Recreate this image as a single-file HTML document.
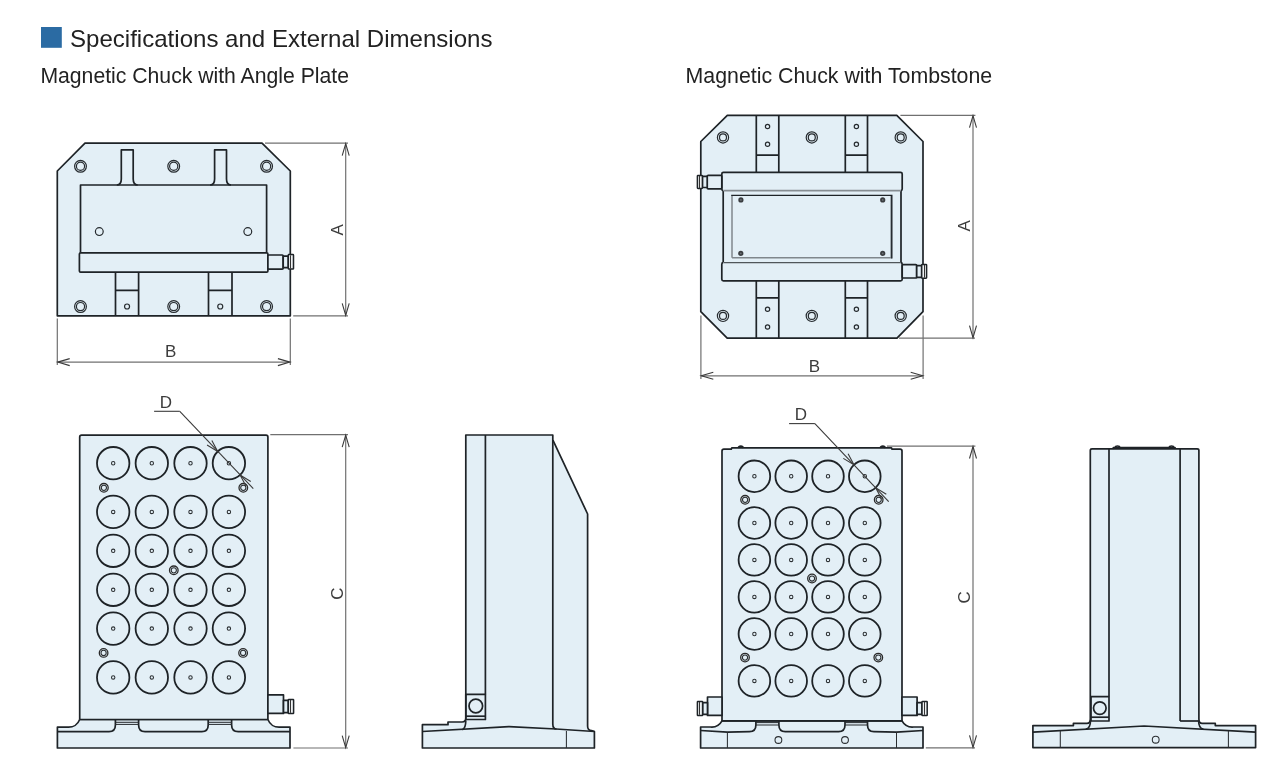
<!DOCTYPE html>
<html><head><meta charset="utf-8"><style>
html,body{margin:0;padding:0;background:#fff;}
body{width:1280px;height:775px;overflow:hidden;position:relative;}
svg{position:absolute;left:0;top:0;will-change:transform;}
.o{fill:none;stroke:#1e2327;stroke-width:1.7;stroke-linejoin:round;}
.of{fill:#e3eff6;stroke:#1e2327;stroke-width:1.7;stroke-linejoin:round;}
.o2{fill:none;stroke:#1e2327;stroke-width:1.4;}
.tg{fill:none;stroke:#777;stroke-width:1;}
.t{fill:none;stroke:#2a2e31;stroke-width:1.05;}
.tr{fill:none;stroke:#262b2f;stroke-width:1.2;}
.tt{fill:none;stroke:#2a2a2a;stroke-width:1.3;}
.big{fill:none;stroke:#1e2327;stroke-width:1.8;}
.dot{fill:#3a3d40;stroke:none;}
.dotc{fill:#6b7075;stroke:none;}
.nut{fill:#eef1f3;stroke:#1e2327;stroke-width:1.5;}
.tn{fill:none;stroke:#333;stroke-width:1;}
.fillonly{fill:#e3eff6;stroke:none;}
.gb{fill:none;stroke:#878d92;stroke-width:1.6;}
.gb2{fill:none;stroke:#50565a;stroke-width:1.3;}
.gp{fill:none;stroke:#80878c;stroke-width:1.5;}
.d{fill:none;stroke:#707070;stroke-width:1.2;}
.d2{fill:none;stroke:#858585;stroke-width:1.4;}
.da{fill:none;stroke:#3a3a3a;stroke-width:1.1;stroke-linejoin:miter;}
.dl{fill:none;stroke:#3a3a3a;stroke-width:1.1;}
text{font-family:"Liberation Sans",sans-serif;fill:#222;}
.lbl{font-size:17px;fill:#3c3c3c;}
</style></head><body>
<svg width="1280" height="775" viewBox="0 0 1280 775">
<rect x="41" y="27" width="20.8" height="20.8" fill="#2b6ba3"/>
<text x="70" y="46.5" font-size="24" textLength="422.5" lengthAdjust="spacingAndGlyphs">Specifications and External Dimensions</text>
<text x="40.4" y="82.8" font-size="21.6" textLength="308.6" lengthAdjust="spacingAndGlyphs">Magnetic Chuck with Angle Plate</text>
<text x="685.6" y="82.8" font-size="21.6" textLength="306.6" lengthAdjust="spacingAndGlyphs">Magnetic Chuck with Tombstone</text>
<text class="lbl" x="170.6" y="357" text-anchor="middle">B</text>
<text class="lbl" x="814.3" y="372" text-anchor="middle">B</text>
<text class="lbl" x="166" y="408" text-anchor="middle">D</text>
<text class="lbl" x="801" y="419.9" text-anchor="middle">D</text>
<text class="lbl" transform="translate(342.8,229.8) rotate(-90)" text-anchor="middle">A</text>
<text class="lbl" transform="translate(969.9,225.9) rotate(-90)" text-anchor="middle">A</text>
<text class="lbl" transform="translate(343.1,593.5) rotate(-90)" text-anchor="middle">C</text>
<text class="lbl" transform="translate(969.9,597.4) rotate(-90)" text-anchor="middle">C</text>
<path d="M57.3,171 L85,143.2 L262,143.2 L290.3,171 L290.3,315.8 L57.3,315.8 Z" class="of"/>
<path d="M116.8,185 Q121.3,185 121.3,179 L121.3,149.9 L133.2,149.9 L133.2,179 Q133.2,185 137.7,185" class="o"/>
<path d="M210.1,185 Q214.6,185 214.6,179 L214.6,149.9 L226.5,149.9 L226.5,179 Q226.5,185 231.0,185" class="o"/>
<path d="M80.5,252.6 L80.5,185 L266.6,185 L266.6,252.6" class="o"/>
<circle cx="99.3" cy="231.6" r="3.9" class="tr"/>
<circle cx="247.8" cy="231.6" r="3.9" class="tr"/>
<rect x="79.4" y="252.8" width="188.5" height="19.4" rx="1.2" class="of"/>
<rect x="267.9" y="255" width="15.3" height="14.1" rx="1" class="of"/>
<rect x="283.2" y="256.1" width="5.1" height="11.6" rx="0" class="of"/>
<rect x="288.3" y="254.6" width="5.2" height="14.5" rx="0.6" class="nut"/>
<line x1="290.5" y1="255.3" x2="290.5" y2="268.4" class="tn"/>
<path d="M115.5,272.2 L115.5,315.8 M138.6,272.2 L138.6,315.8 M115.5,290.3 L138.6,290.3" class="o"/>
<circle cx="127.05" cy="306.5" r="2.5" class="tr"/>
<path d="M208.5,272.2 L208.5,315.8 M232,272.2 L232,315.8 M208.5,290.3 L232,290.3" class="o"/>
<circle cx="220.25" cy="306.5" r="2.5" class="tr"/>
<circle cx="80.5" cy="166.3" r="5.9" class="tr"/>
<circle cx="80.5" cy="166.3" r="4.1" class="tr"/>
<circle cx="80.5" cy="306.6" r="5.9" class="tr"/>
<circle cx="80.5" cy="306.6" r="4.1" class="tr"/>
<circle cx="173.7" cy="166.3" r="5.9" class="tr"/>
<circle cx="173.7" cy="166.3" r="4.1" class="tr"/>
<circle cx="173.7" cy="306.6" r="5.9" class="tr"/>
<circle cx="173.7" cy="306.6" r="4.1" class="tr"/>
<circle cx="266.6" cy="166.3" r="5.9" class="tr"/>
<circle cx="266.6" cy="166.3" r="4.1" class="tr"/>
<circle cx="266.6" cy="306.6" r="5.9" class="tr"/>
<circle cx="266.6" cy="306.6" r="4.1" class="tr"/>
<line x1="265" y1="143.2" x2="348" y2="143.2" class="d"/>
<line x1="293.2" y1="315.8" x2="348" y2="315.8" class="d"/>
<line x1="345.7" y1="143.6" x2="345.7" y2="315.4" class="d"/>
<path d="M349.20,155.60 L345.7,143.6 L342.20,155.60" class="da"/>
<path d="M342.20,303.40 L345.7,315.4 L349.20,303.40" class="da"/>
<line x1="57.3" y1="318.5" x2="57.3" y2="365" class="d"/>
<line x1="290.3" y1="318.5" x2="290.3" y2="365" class="d"/>
<line x1="57.7" y1="362.1" x2="289.9" y2="362.1" class="d"/>
<path d="M69.70,358.60 L57.7,362.1 L69.70,365.60" class="da"/>
<path d="M277.90,365.60 L289.9,362.1 L277.90,358.60" class="da"/>
<path d="M700.8,141.5 L727.3,115.3 L896.8,115.3 L923,141.5 L923,311.7 L897,338.1 L727.2,338.1 L700.8,311.7 Z" class="of"/>
<path d="M756.3,115.3 L756.3,172.2 M778.8,115.3 L778.8,172.2 M756.3,155.1 L778.8,155.1" class="o"/>
<path d="M756.3,280.8 L756.3,338.1 M778.8,280.8 L778.8,338.1 M756.3,297.9 L778.8,297.9" class="o"/>
<circle cx="767.55" cy="126.5" r="2.15" class="tr"/>
<circle cx="767.55" cy="144.2" r="2.15" class="tr"/>
<circle cx="767.55" cy="309.3" r="2.15" class="tr"/>
<circle cx="767.55" cy="327" r="2.15" class="tr"/>
<path d="M845.3,115.3 L845.3,172.2 M867.5,115.3 L867.5,172.2 M845.3,155.1 L867.5,155.1" class="o"/>
<path d="M845.3,280.8 L845.3,338.1 M867.5,280.8 L867.5,338.1 M845.3,297.9 L867.5,297.9" class="o"/>
<circle cx="856.4" cy="126.5" r="2.15" class="tr"/>
<circle cx="856.4" cy="144.2" r="2.15" class="tr"/>
<circle cx="856.4" cy="309.3" r="2.15" class="tr"/>
<circle cx="856.4" cy="327" r="2.15" class="tr"/>
<circle cx="723" cy="137.45" r="5.6" class="tr"/>
<circle cx="723" cy="137.45" r="3.5" class="tr"/>
<circle cx="723" cy="315.9" r="5.6" class="tr"/>
<circle cx="723" cy="315.9" r="3.5" class="tr"/>
<circle cx="811.8" cy="137.45" r="5.6" class="tr"/>
<circle cx="811.8" cy="137.45" r="3.5" class="tr"/>
<circle cx="811.8" cy="315.9" r="5.6" class="tr"/>
<circle cx="811.8" cy="315.9" r="3.5" class="tr"/>
<circle cx="900.7" cy="137.45" r="5.6" class="tr"/>
<circle cx="900.7" cy="137.45" r="3.5" class="tr"/>
<circle cx="900.7" cy="315.9" r="5.6" class="tr"/>
<circle cx="900.7" cy="315.9" r="3.5" class="tr"/>
<path d="M723.2,190.5 L723.2,262.6 M901,190.5 L901,262.6" class="o"/>
<rect x="721.8" y="172.4" width="180.4" height="18.2" rx="0" class="fillonly"/>
<path d="M723.2,190.6 Q721.8,190.6 721.8,189 L721.8,174 Q721.8,172.4 723.4,172.4 L900.6,172.4 Q902.2,172.4 902.2,174 L902.2,189 Q902.2,190.6 900.8,190.6" class="o"/>
<line x1="723.5" y1="190.6" x2="900.8" y2="190.6" class="gb"/>
<rect x="721.8" y="262.6" width="180.4" height="18.2" rx="0" class="fillonly"/>
<path d="M723.2,262.6 Q721.8,262.6 721.8,264.2 L721.8,279.2 Q721.8,280.8 723.4,280.8 L900.6,280.8 Q902.2,280.8 902.2,279.2 L902.2,264.2 Q902.2,262.6 900.8,262.6" class="o"/>
<line x1="723.5" y1="262.6" x2="900.8" y2="262.6" class="gb2"/>
<line x1="732" y1="195.4" x2="732" y2="257.7" class="gp"/>
<line x1="732" y1="257.7" x2="891.8" y2="257.7" class="gp"/>
<line x1="891.1" y1="196" x2="891.1" y2="257" class="gp"/>
<path d="M731.2,195.4 L891.8,195.4 L891.8,258.4" class="o2"/>
<circle cx="740.9" cy="199.9" r="2.6" class="dot"/>
<circle cx="740.9" cy="199.9" r="0.9" class="dotc"/>
<circle cx="882.7" cy="199.9" r="2.6" class="dot"/>
<circle cx="882.7" cy="199.9" r="0.9" class="dotc"/>
<circle cx="740.8" cy="253.4" r="2.6" class="dot"/>
<circle cx="740.8" cy="253.4" r="0.9" class="dotc"/>
<circle cx="882.7" cy="253.4" r="2.6" class="dot"/>
<circle cx="882.7" cy="253.4" r="0.9" class="dotc"/>
<rect x="707.2" y="175.3" width="14.6" height="13.5" rx="1" class="of"/>
<rect x="702.4" y="176.4" width="4.8" height="11.1" rx="0" class="of"/>
<rect x="697.4" y="175.5" width="5" height="12.9" rx="0.6" class="nut"/>
<line x1="699.5" y1="176" x2="699.5" y2="188" class="tn"/>
<rect x="902.2" y="264.7" width="14.5" height="13.3" rx="1" class="of"/>
<rect x="916.7" y="265.6" width="5" height="11.7" rx="0" class="of"/>
<rect x="921.7" y="264.5" width="4.9" height="13.7" rx="0.6" class="nut"/>
<line x1="924.5" y1="265" x2="924.5" y2="277.7" class="tn"/>
<line x1="900.4" y1="115.3" x2="975.4" y2="115.3" class="d"/>
<line x1="899" y1="338.1" x2="975" y2="338.1" class="d"/>
<line x1="973.0" y1="115.7" x2="973.0" y2="337.7" class="d2"/>
<path d="M976.50,127.70 L973.0,115.7 L969.50,127.70" class="da"/>
<path d="M969.50,325.70 L973.0,337.7 L976.50,325.70" class="da"/>
<line x1="700.9" y1="315.5" x2="700.9" y2="379" class="d"/>
<line x1="923.1" y1="315.5" x2="923.1" y2="379" class="d"/>
<line x1="701.3" y1="375.8" x2="922.7" y2="375.8" class="d"/>
<path d="M713.30,372.30 L701.3,375.8 L713.30,379.30" class="da"/>
<path d="M910.70,379.30 L922.7,375.8 L910.70,372.30" class="da"/>
<path d="M57.4,727.2 L68,727.2 A12,12 0 0 0 79.7,719.5 L267.9,719.5 A12,12 0 0 0 279.6,727.2 L290,727.2 L290,748 L57.4,748 Z" class="of"/>
<path d="M79.7,719.5 L79.7,437 Q79.7,435.1 81.6,435.1 L266,435.1 Q267.9,435.1 267.9,437 L267.9,719.5" class="of"/>
<path d="M57.4,731.6 L109,731.6 Q115.4,731.6 115.4,725 L115.4,719.5" class="o"/>
<path d="M138.6,719.5 L138.6,725 Q138.6,731.6 145,731.6 L201.8,731.6 Q208.2,731.6 208.2,725 L208.2,719.5" class="o"/>
<path d="M231.6,719.5 L231.6,725 Q231.6,731.6 238.2,731.6 L290,731.6" class="o"/>
<line x1="115.4" y1="722.3" x2="138.6" y2="722.3" class="t"/>
<line x1="115.4" y1="724.4" x2="138.6" y2="724.4" class="t"/>
<line x1="208.2" y1="722.3" x2="232" y2="722.3" class="t"/>
<line x1="208.2" y1="724.4" x2="232" y2="724.4" class="t"/>
<line x1="79.7" y1="719.5" x2="267.9" y2="719.5" class="o"/>
<circle cx="113.2" cy="463.2" r="16.2" class="big"/>
<circle cx="113.2" cy="463.2" r="1.7" class="t"/>
<circle cx="151.8" cy="463.2" r="16.2" class="big"/>
<circle cx="151.8" cy="463.2" r="1.7" class="t"/>
<circle cx="190.5" cy="463.2" r="16.2" class="big"/>
<circle cx="190.5" cy="463.2" r="1.7" class="t"/>
<circle cx="228.9" cy="463.2" r="16.2" class="big"/>
<circle cx="228.9" cy="463.2" r="1.7" class="t"/>
<circle cx="113.2" cy="511.9" r="16.2" class="big"/>
<circle cx="113.2" cy="511.9" r="1.7" class="t"/>
<circle cx="151.8" cy="511.9" r="16.2" class="big"/>
<circle cx="151.8" cy="511.9" r="1.7" class="t"/>
<circle cx="190.5" cy="511.9" r="16.2" class="big"/>
<circle cx="190.5" cy="511.9" r="1.7" class="t"/>
<circle cx="228.9" cy="511.9" r="16.2" class="big"/>
<circle cx="228.9" cy="511.9" r="1.7" class="t"/>
<circle cx="113.2" cy="550.8" r="16.2" class="big"/>
<circle cx="113.2" cy="550.8" r="1.7" class="t"/>
<circle cx="151.8" cy="550.8" r="16.2" class="big"/>
<circle cx="151.8" cy="550.8" r="1.7" class="t"/>
<circle cx="190.5" cy="550.8" r="16.2" class="big"/>
<circle cx="190.5" cy="550.8" r="1.7" class="t"/>
<circle cx="228.9" cy="550.8" r="16.2" class="big"/>
<circle cx="228.9" cy="550.8" r="1.7" class="t"/>
<circle cx="113.2" cy="589.8" r="16.2" class="big"/>
<circle cx="113.2" cy="589.8" r="1.7" class="t"/>
<circle cx="151.8" cy="589.8" r="16.2" class="big"/>
<circle cx="151.8" cy="589.8" r="1.7" class="t"/>
<circle cx="190.5" cy="589.8" r="16.2" class="big"/>
<circle cx="190.5" cy="589.8" r="1.7" class="t"/>
<circle cx="228.9" cy="589.8" r="16.2" class="big"/>
<circle cx="228.9" cy="589.8" r="1.7" class="t"/>
<circle cx="113.2" cy="628.6" r="16.2" class="big"/>
<circle cx="113.2" cy="628.6" r="1.7" class="t"/>
<circle cx="151.8" cy="628.6" r="16.2" class="big"/>
<circle cx="151.8" cy="628.6" r="1.7" class="t"/>
<circle cx="190.5" cy="628.6" r="16.2" class="big"/>
<circle cx="190.5" cy="628.6" r="1.7" class="t"/>
<circle cx="228.9" cy="628.6" r="16.2" class="big"/>
<circle cx="228.9" cy="628.6" r="1.7" class="t"/>
<circle cx="113.2" cy="677.4" r="16.2" class="big"/>
<circle cx="113.2" cy="677.4" r="1.7" class="t"/>
<circle cx="151.8" cy="677.4" r="16.2" class="big"/>
<circle cx="151.8" cy="677.4" r="1.7" class="t"/>
<circle cx="190.5" cy="677.4" r="16.2" class="big"/>
<circle cx="190.5" cy="677.4" r="1.7" class="t"/>
<circle cx="228.9" cy="677.4" r="16.2" class="big"/>
<circle cx="228.9" cy="677.4" r="1.7" class="t"/>
<circle cx="103.9" cy="487.8" r="4.3" class="tt"/>
<circle cx="103.9" cy="487.8" r="2.6" class="t"/>
<circle cx="243.3" cy="487.8" r="4.3" class="tt"/>
<circle cx="243.3" cy="487.8" r="2.6" class="t"/>
<circle cx="173.8" cy="570.3" r="4.3" class="tt"/>
<circle cx="173.8" cy="570.3" r="2.6" class="t"/>
<circle cx="103.6" cy="652.9" r="4.3" class="tt"/>
<circle cx="103.6" cy="652.9" r="2.6" class="t"/>
<circle cx="243.1" cy="652.9" r="4.3" class="tt"/>
<circle cx="243.1" cy="652.9" r="2.6" class="t"/>
<rect x="267.9" y="694.9" width="15.6" height="18.5" rx="0" class="of"/>
<rect x="283.5" y="700.3" width="4.8" height="12.3" rx="0" class="of"/>
<rect x="288.3" y="699.4" width="5.3" height="14" rx="0.5" class="nut"/>
<line x1="290.5" y1="700" x2="290.5" y2="712.9" class="tn"/>
<line x1="154.1" y1="411.3" x2="179.8" y2="411.3" class="dl"/>
<line x1="179.8" y1="411.3" x2="253.3" y2="488.7" class="dl"/>
<path d="M207.05,444.96 L217.7,451.4 L211.84,440.42" class="da"/>
<path d="M250.75,481.44 L240.1,475.0 L245.96,485.98" class="da"/>
<line x1="270.3" y1="434.7" x2="348" y2="434.7" class="d"/>
<line x1="293.4" y1="748" x2="348" y2="748" class="d"/>
<line x1="345.7" y1="435.1" x2="345.7" y2="747.6" class="d"/>
<path d="M349.20,447.10 L345.7,435.1 L342.20,447.10" class="da"/>
<path d="M342.20,735.60 L345.7,747.6 L349.20,735.60" class="da"/>
<path d="M422.4,748 L422.4,724.7 L448,724.7 L448,722 L462,722 Q465.8,722 465.8,718 L465.8,435 L552.8,435 L552.8,439.9 L587.6,514 L587.6,726 Q587.6,730.6 591.5,730.6 L594.4,731.5 L594.4,748 Z" class="of"/>
<line x1="485.4" y1="435" x2="485.4" y2="694.3" class="o"/>
<line x1="552.8" y1="439.9" x2="552.8" y2="724" class="o"/>
<path d="M552.8,724 Q552.8,729 556.5,729" class="o"/>
<path d="M422.4,731.5 L509,726.7 L556,729 L594.4,731.5" class="o"/>
<path d="M465.8,720.5 Q465.7,728.3 462.4,729.7" class="o"/>
<line x1="566.4" y1="731" x2="566.4" y2="748" class="t"/>
<rect x="465.8" y="694.3" width="19.6" height="25.2" rx="0" class="o"/>
<line x1="465.8" y1="716.2" x2="485.4" y2="716.2" class="o"/>
<circle cx="475.8" cy="706" r="6.8" class="o"/>
<path d="M700.6,748 L700.6,727 L710.3,727 A12,12 0 0 0 722,720.9 L902,720.9 A12,12 0 0 0 913.7,727 L923,727 L923,748 Z" class="of"/>
<path d="M722,720.9 L722,451 Q722,449.1 723.9,449.1 L731.3,449.1 L731.8,447.9 L891.5,447.9 L892,449.1 L900.1,449.1 Q902,449.1 902,451 L902,720.9" class="of"/>
<path d="M738.3,448 Q738.6,446.2 740.8,446.2 Q743,446.2 743.3,448" class="o"/>
<path d="M880.3,448 Q880.6,446.2 882.8,446.2 Q885,446.2 885.3,448" class="o"/>
<path d="M700.6,730.5 L727.4,732.2 L749.5,731.6 Q755.9,731.6 755.9,725 L755.9,720.9" class="o"/>
<path d="M778.9,720.9 L778.9,725 Q778.9,731.6 785.3,731.6 L838.6,731.6 Q845,731.6 845,725 L845,720.9" class="o"/>
<path d="M867.5,720.9 L867.5,725 Q867.5,731.6 873.9,731.6 L896.5,732.2 L923,730.5" class="o"/>
<line x1="755.9" y1="722.6" x2="778.9" y2="722.6" class="t"/>
<line x1="755.9" y1="725" x2="778.9" y2="725" class="t"/>
<line x1="845" y1="722.6" x2="867.5" y2="722.6" class="t"/>
<line x1="845" y1="725" x2="867.5" y2="725" class="t"/>
<line x1="722" y1="720.9" x2="902" y2="720.9" class="o"/>
<line x1="727.4" y1="732.2" x2="727.4" y2="748" class="t"/>
<line x1="896.5" y1="732.2" x2="896.5" y2="748" class="t"/>
<circle cx="778.4" cy="740" r="3.4" class="t"/>
<circle cx="845" cy="740" r="3.4" class="t"/>
<circle cx="754.4" cy="476.3" r="15.8" class="big"/>
<circle cx="754.4" cy="476.3" r="1.7" class="t"/>
<circle cx="791.2" cy="476.3" r="15.8" class="big"/>
<circle cx="791.2" cy="476.3" r="1.7" class="t"/>
<circle cx="828" cy="476.3" r="15.8" class="big"/>
<circle cx="828" cy="476.3" r="1.7" class="t"/>
<circle cx="864.8" cy="476.3" r="15.8" class="big"/>
<circle cx="864.8" cy="476.3" r="1.7" class="t"/>
<circle cx="754.4" cy="523" r="15.8" class="big"/>
<circle cx="754.4" cy="523" r="1.7" class="t"/>
<circle cx="791.2" cy="523" r="15.8" class="big"/>
<circle cx="791.2" cy="523" r="1.7" class="t"/>
<circle cx="828" cy="523" r="15.8" class="big"/>
<circle cx="828" cy="523" r="1.7" class="t"/>
<circle cx="864.8" cy="523" r="15.8" class="big"/>
<circle cx="864.8" cy="523" r="1.7" class="t"/>
<circle cx="754.4" cy="559.9" r="15.8" class="big"/>
<circle cx="754.4" cy="559.9" r="1.7" class="t"/>
<circle cx="791.2" cy="559.9" r="15.8" class="big"/>
<circle cx="791.2" cy="559.9" r="1.7" class="t"/>
<circle cx="828" cy="559.9" r="15.8" class="big"/>
<circle cx="828" cy="559.9" r="1.7" class="t"/>
<circle cx="864.8" cy="559.9" r="15.8" class="big"/>
<circle cx="864.8" cy="559.9" r="1.7" class="t"/>
<circle cx="754.4" cy="596.9" r="15.8" class="big"/>
<circle cx="754.4" cy="596.9" r="1.7" class="t"/>
<circle cx="791.2" cy="596.9" r="15.8" class="big"/>
<circle cx="791.2" cy="596.9" r="1.7" class="t"/>
<circle cx="828" cy="596.9" r="15.8" class="big"/>
<circle cx="828" cy="596.9" r="1.7" class="t"/>
<circle cx="864.8" cy="596.9" r="15.8" class="big"/>
<circle cx="864.8" cy="596.9" r="1.7" class="t"/>
<circle cx="754.4" cy="634" r="15.8" class="big"/>
<circle cx="754.4" cy="634" r="1.7" class="t"/>
<circle cx="791.2" cy="634" r="15.8" class="big"/>
<circle cx="791.2" cy="634" r="1.7" class="t"/>
<circle cx="828" cy="634" r="15.8" class="big"/>
<circle cx="828" cy="634" r="1.7" class="t"/>
<circle cx="864.8" cy="634" r="15.8" class="big"/>
<circle cx="864.8" cy="634" r="1.7" class="t"/>
<circle cx="754.4" cy="680.9" r="15.8" class="big"/>
<circle cx="754.4" cy="680.9" r="1.7" class="t"/>
<circle cx="791.2" cy="680.9" r="15.8" class="big"/>
<circle cx="791.2" cy="680.9" r="1.7" class="t"/>
<circle cx="828" cy="680.9" r="15.8" class="big"/>
<circle cx="828" cy="680.9" r="1.7" class="t"/>
<circle cx="864.8" cy="680.9" r="15.8" class="big"/>
<circle cx="864.8" cy="680.9" r="1.7" class="t"/>
<circle cx="745.1" cy="499.8" r="4.3" class="tt"/>
<circle cx="745.1" cy="499.8" r="2.6" class="t"/>
<circle cx="878.7" cy="499.8" r="4.3" class="tt"/>
<circle cx="878.7" cy="499.8" r="2.6" class="t"/>
<circle cx="812" cy="578.5" r="4.3" class="tt"/>
<circle cx="812" cy="578.5" r="2.6" class="t"/>
<circle cx="745" cy="657.6" r="4.3" class="tt"/>
<circle cx="745" cy="657.6" r="2.6" class="t"/>
<circle cx="878.3" cy="657.6" r="4.3" class="tt"/>
<circle cx="878.3" cy="657.6" r="2.6" class="t"/>
<rect x="707.5" y="697" width="14.5" height="18.4" rx="0" class="of"/>
<rect x="702.6" y="702.6" width="4.9" height="11.8" rx="0" class="of"/>
<rect x="697.4" y="701.4" width="5.2" height="14" rx="0.5" class="nut"/>
<line x1="699.5" y1="702" x2="699.5" y2="714.8" class="tn"/>
<rect x="902" y="697" width="15.1" height="18.4" rx="0" class="of"/>
<rect x="917.1" y="702.6" width="4.9" height="11.8" rx="0" class="of"/>
<rect x="922" y="701.4" width="5.2" height="14" rx="0.5" class="nut"/>
<line x1="924.5" y1="702" x2="924.5" y2="714.8" class="tn"/>
<line x1="789.1" y1="423.6" x2="814.9" y2="423.6" class="dl"/>
<line x1="814.9" y1="423.6" x2="888.7" y2="501.6" class="dl"/>
<path d="M843.30,458.37 L853.94,464.82 L848.09,453.84" class="da"/>
<path d="M886.30,494.23 L875.66,487.78 L881.51,498.76" class="da"/>
<line x1="886.9" y1="446.1" x2="975.4" y2="446.1" class="d"/>
<line x1="925.8" y1="747.8" x2="975" y2="747.8" class="d"/>
<line x1="973.0" y1="446.5" x2="973.0" y2="747.4" class="d2"/>
<path d="M976.50,458.50 L973.0,446.5 L969.50,458.50" class="da"/>
<path d="M969.50,735.40 L973.0,747.4 L976.50,735.40" class="da"/>
<path d="M1032.9,747.6 L1032.9,725.6 L1073.4,725.6 L1073.4,723.4 L1086.9,723.4 Q1090.3,723.4 1090.3,719 L1090.3,450.5 Q1090.3,448.9 1092,448.9 L1197.2,448.9 Q1198.9,448.9 1198.9,450.5 L1198.9,719 Q1198.9,723.4 1202.2,723.4 L1215.3,723.4 L1215.3,725.6 L1255.6,725.6 L1255.6,747.6 Z" class="of"/>
<line x1="1109" y1="448.9" x2="1109" y2="696.6" class="o"/>
<line x1="1180.1" y1="448.9" x2="1180.1" y2="721" class="o"/>
<line x1="1180.1" y1="721" x2="1198.9" y2="721" class="o"/>
<path d="M1112.7,448.9 L1113.4,447.6 L1175,447.6 L1175.6,448.9" class="o"/>
<path d="M1115,447.7 Q1115.3,446 1117.5,446 Q1119.7,446 1120,447.7" class="o"/>
<path d="M1169,447.7 Q1169.3,446 1171.5,446 Q1173.7,446 1174,447.7" class="o"/>
<rect x="1091" y="696.6" width="18" height="24.4" rx="0" class="o"/>
<line x1="1091" y1="717.2" x2="1109" y2="717.2" class="o"/>
<circle cx="1099.8" cy="708.1" r="6.3" class="o"/>
<path d="M1032.9,732.2 L1144.1,726 L1255.6,732.2" class="o"/>
<path d="M1090.5,720.5 Q1090.4,728.6 1085.8,729.2" class="o"/>
<path d="M1198.6,720.5 Q1198.7,728.6 1203.4,729.2" class="o"/>
<line x1="1060.3" y1="731" x2="1060.3" y2="747.6" class="t"/>
<line x1="1228.4" y1="731" x2="1228.4" y2="747.6" class="t"/>
<circle cx="1155.7" cy="739.7" r="3.4" class="t"/>
</svg>
</body></html>
